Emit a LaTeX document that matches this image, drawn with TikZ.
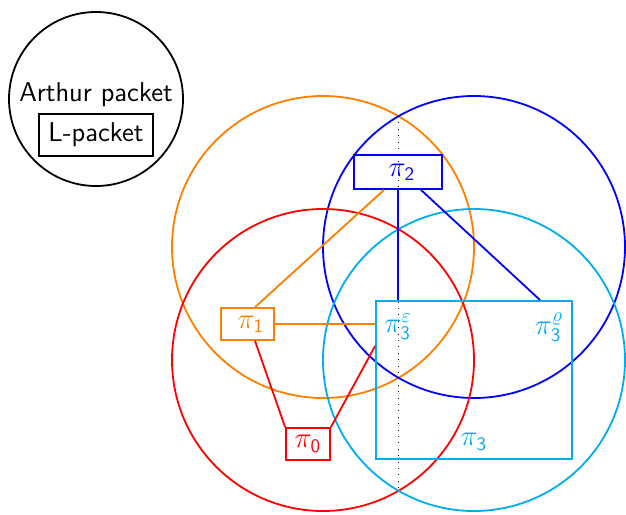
\documentclass[tikz,border=0pt]{standalone}
\usepackage{fontspec}
\definecolor{orangec}{RGB}{255,128,0}
\definecolor{cyanc}{RGB}{0,174,239}
\newcommand{\sd}[1]{\mathsf{#1}}
\begin{document}
\begin{tikzpicture}[x=0.5pt,y=-0.5pt,
  every node/.style={font=\sffamily\fontsize{13.6}{16}\selectfont},
  circ/.style={line width=0.9pt},
  box/.style={draw, line width=0.9pt, inner sep=0pt},
  conn/.style={line width=0.9pt}]
\useasboundingbox (0,0) rectangle (626,514);
% dotted guide
\coordinate (dtop) at (398,116);
\coordinate (dbot) at (398,492);
\draw[line width=0.4pt, dash pattern=on 0.4pt off 2.8pt] (dtop) -- (dbot);
% legend circle
\draw[circ] (96,99) circle [radius=87];
\node (arthur) at (96,95) {Arthur packet};
\node[box, minimum width=57pt, minimum height=21pt] (lpacket) at (96,135) {L-packet};
% big circles
\draw[circ,orangec] (323,247) circle [radius=151];
\draw[circ,blue] (474,247) circle [radius=151];
\draw[circ,red] (323,360) circle [radius=151];
\draw[circ,cyanc] (474,360) circle [radius=151];
% boxes
\node[box, blue, minimum width=44pt, minimum height=17pt] (p2) at (398,172) {\hspace{4pt}$\pi_{\sd{2}}$};
\node[box, orangec, minimum width=26.5pt, minimum height=16pt] (p1) at (247.5,324) {\hspace{3.5pt}$\pi_{\sd{1}}$};
\node[box, red, minimum width=22pt, minimum height=16pt] (p0) at (308,444) {$\pi_{\sd{0}}$};
\node[box, cyanc, minimum width=98pt, minimum height=79pt] (p3) at (474,380) {};
\node[cyanc] (p3e) at (398,327) {$\pi_{\sd{3}}^{\varepsilon}$};
\node[cyanc] (p3r) at (549,327) {$\pi_{\sd{3}}^{\varrho}$};
\node[cyanc] (p3n) at (474,442) {$\pi_{\sd{3}}$};
% connectors
\draw[conn,orangec] ([xshift=-7pt]p2.south) -- ([xshift=3.75pt]p1.north);
\draw[conn,orangec] (p1.east) -- (p1.east -| p3.west);
\draw[conn,blue] (p2.south) -- (p2.south |- p3.north);
\draw[conn,blue] ([xshift=11.5pt]p2.south) -- ([xshift=82.5pt]p3.north west);
\draw[conn,red] ([xshift=3.75pt]p1.south) -- (p0.north west);
\draw[conn,red] (p0.north east) -- ([yshift=17pt]p3.west);
\end{tikzpicture}
\end{document}
